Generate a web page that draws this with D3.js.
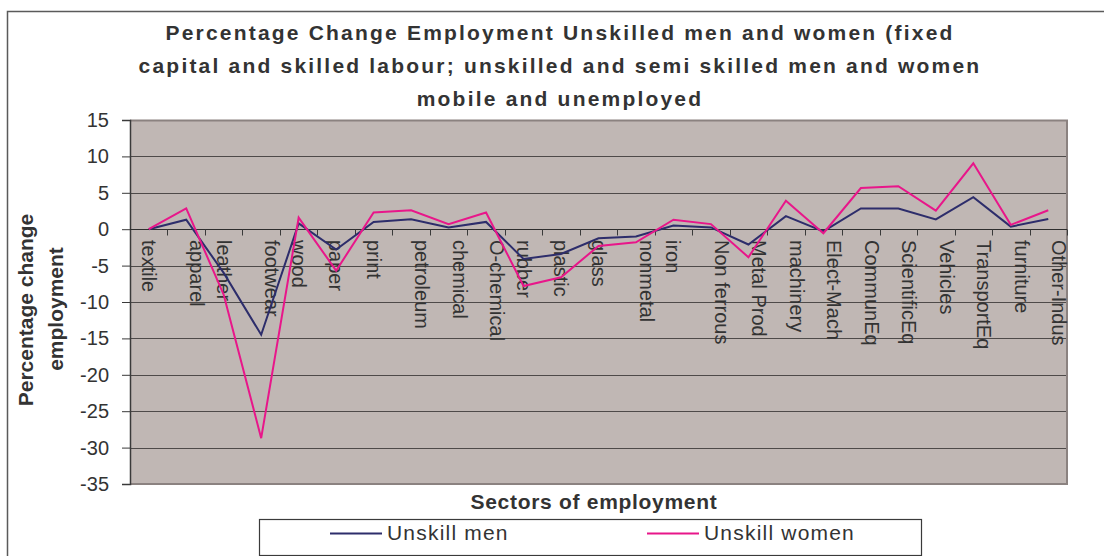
<!DOCTYPE html>
<html>
<head>
<meta charset="utf-8">
<script src="https://cdn.jsdelivr.net/npm/d3@7"></script>
<style>
  html, body { margin: 0; padding: 0; background: #fff; }
  svg { display: block; font-family: "Liberation Sans", Arial, sans-serif; }
</style>
</head>
<body>
<svg id="chart" width="1104" height="556"></svg>
<script>
// Sectors on the category axis, left to right
const sectors = [
  "textile", "apparel", "leather", "footwear", "wood", "paper", "print",
  "petroleum", "chemical", "O-chemical", "rubber", "plastic", "glass",
  "nonmetal", "iron", "Non ferrous", "Metal Prod", "machinery", "Elect-Mach",
  "CommunEq", "ScientificEq", "Vehicles", "TransportEq", "furniture", "Other-Indus"
];

// Percentage change in employment per sector
const unskillMen = [
  0, 1.3, -6.0, -14.5, 0.8, -2.8, 1.0,
  1.35, 0.25, 1.0, -4.1, -3.4, -1.25,
  -1.0, 0.5, 0.25, -2.1, 1.8, -0.3,
  2.85, 2.85, 1.35, 4.4, 0.35, 1.4
];
const unskillWomen = [
  0, 2.85, -9.0, -28.7, 1.6, -5.7, 2.3,
  2.6, 0.7, 2.3, -7.8, -6.6, -2.3,
  -1.8, 1.3, 0.7, -3.85, 3.9, -0.55,
  5.65, 5.9, 2.55, 9.05, 0.6, 2.6
];

// Value axis tick labels
const yTicks = [15, 10, 5, 0, -5, -10, -15, -20, -25, -30, -35];

const seriesNames = ["Unskill men", "Unskill women"];
const seriesColors = ["#2d2d6b", "#e8168a"];

const titleLines = [
  "Percentage Change Employment Unskilled men and women (fixed",
  "capital and skilled labour; unskilled and semi skilled men and women",
  "mobile and unemployed"
];

const textColor = "#333333";
const svg = d3.select("#chart");

const plot = { left: 130, right: 1067, top: 120, bottom: 484 };

const x = d3.scaleBand().domain(sectors).range([plot.left, plot.right]).padding(0);
const y = d3.scaleLinear().domain([-35, 15]).range([plot.bottom, plot.top]);
const cx = d => x(d) + x.bandwidth() / 2;

// Outer chart frame (top and left edges)
svg.append("path")
  .attr("d", `M7.5,556 L7.5,11.5 L1104,11.5`)
  .attr("fill", "none").attr("stroke", "#5a5a5a").attr("stroke-width", 1.5);

// Plot background
svg.append("rect")
  .attr("x", plot.left).attr("y", plot.top)
  .attr("width", plot.right - plot.left).attr("height", plot.bottom - plot.top)
  .attr("fill", "#c0b7b4");

// Horizontal gridlines
svg.append("g").selectAll("line")
  .data(yTicks.filter(v => v !== 15 && v !== -35 && v !== 0))
  .join("line")
  .attr("x1", plot.left).attr("x2", plot.right)
  .attr("y1", v => Math.round(y(v)) + 0.5).attr("y2", v => Math.round(y(v)) + 0.5)
  .attr("stroke", "#4e4a49").attr("stroke-width", 1);

// Plot border (top, right, bottom)
svg.append("path")
  .attr("d", `M${plot.left},${plot.top + 0.5} L${plot.right},${plot.top + 0.5} L${plot.right},${plot.bottom} L${plot.left},${plot.bottom}`)
  .attr("fill", "none").attr("stroke", "#8b8280").attr("stroke-width", 2);

// Value axis
const yAxis = svg.append("g")
  .attr("transform", `translate(${plot.left},0)`)
  .call(d3.axisLeft(y).tickValues(yTicks).tickSize(8).tickPadding(13).tickFormat(v => String(v)));
yAxis.select(".domain").attr("stroke", "#3a3a3a").attr("stroke-width", 1.5);
yAxis.selectAll(".tick line").attr("stroke", "#3a3a3a");
yAxis.selectAll(".tick text")
  .attr("fill", textColor)
  .style("font-size", "20px")
  .style("font-family", "'Liberation Sans', Arial, sans-serif");

// Category axis along zero, ticks between categories
const zeroY = Math.round(y(0)) + 0.5;
svg.append("line")
  .attr("x1", plot.left).attr("x2", plot.right)
  .attr("y1", zeroY).attr("y2", zeroY)
  .attr("stroke", "#2e2e2e").attr("stroke-width", 1.2);
const edges = sectors.map(s => x(s)).concat([plot.right]);
svg.append("g").selectAll("line")
  .data(edges.slice(1))
  .join("line")
  .attr("x1", d => Math.round(d) + 0.5).attr("x2", d => Math.round(d) + 0.5)
  .attr("y1", zeroY).attr("y2", zeroY + 6)
  .attr("stroke", "#3a3a3a").attr("stroke-width", 1);

// Category labels, reading downward; most sit a little right of their point
const centredLabels = new Set(["textile", "leather", "wood", "paper", "print", "rubber", "plastic", "glass", "iron"]);
svg.append("g").selectAll("text")
  .data(sectors)
  .join("text")
  .attr("transform", d => `translate(${cx(d) + (centredLabels.has(d) ? 0 : 11)},240) rotate(90)`)
  .attr("dy", "0.35em")
  .attr("text-anchor", "start")
  .attr("fill", textColor)
  .style("font-size", "20px")
  .text(d => d);

// Series lines
const line = d3.line().x((v, i) => cx(sectors[i])).y(v => y(v));
[unskillMen, unskillWomen].forEach((vals, k) => {
  svg.append("path")
    .datum(vals)
    .attr("d", line)
    .attr("fill", "none")
    .attr("stroke", seriesColors[k])
    .attr("stroke-width", 2)
    .attr("stroke-linejoin", "miter");
});

// Chart title
svg.append("g").selectAll("text")
  .data(titleLines)
  .join("text")
  .attr("x", 560).attr("y", (d, i) => 40 + i * 33)
  .attr("text-anchor", "middle")
  .attr("fill", textColor)
  .style("font-size", "21px").style("font-weight", "bold").style("letter-spacing", "2.2px")
  .text(d => d);

// Value axis title
const yTitle = svg.append("g").attr("fill", textColor)
  .style("font-size", "21px").style("font-weight", "bold");
yTitle.append("text")
  .attr("transform", "translate(33,310) rotate(-90)")
  .attr("text-anchor", "middle").text("Percentage change");
yTitle.append("text")
  .attr("transform", "translate(63,309) rotate(-90)")
  .attr("text-anchor", "middle").text("employment");

// Category axis title
svg.append("text")
  .attr("x", 594).attr("y", 509)
  .attr("text-anchor", "middle")
  .attr("fill", textColor)
  .style("font-size", "21px").style("font-weight", "bold").style("letter-spacing", "0.7px")
  .text("Sectors of employment");

// Legend
const legend = svg.append("g");
legend.append("rect")
  .attr("x", 259.5).attr("y", 519.5).attr("width", 662).attr("height", 36)
  .attr("fill", "#fff").attr("stroke", "#3a3a3a").attr("stroke-width", 1.2);
const legendX = [330, 647];
seriesNames.forEach((name, k) => {
  legend.append("line")
    .attr("x1", legendX[k]).attr("x2", legendX[k] + 52)
    .attr("y1", 533.5).attr("y2", 533.5)
    .attr("stroke", seriesColors[k]).attr("stroke-width", 2);
  legend.append("text")
    .attr("x", legendX[k] + 57).attr("y", 540)
    .attr("fill", textColor)
    .style("font-size", "21px").style("letter-spacing", "1.2px")
    .text(name);
});
</script>
</body>
</html>
